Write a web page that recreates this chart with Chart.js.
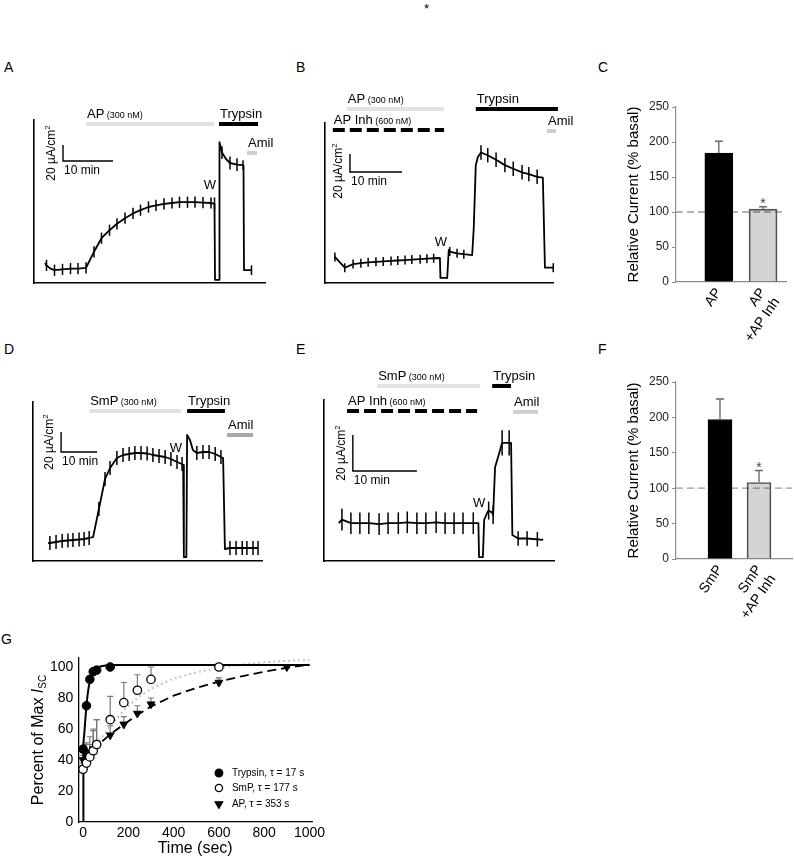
<!DOCTYPE html>
<html>
<head>
<meta charset="utf-8">
<title>Protease activation of ENaC</title>
<script src="https://cdn.jsdelivr.net/npm/chart.js@4.4.1/dist/chart.umd.min.js"></script>
<style>
  html, body { margin: 0; padding: 0; background: #fff; }
  body { position: relative; width: 794px; height: 862px; overflow: hidden;
         font-family: "Liberation Sans", Arial, sans-serif; }
  canvas { position: absolute; }
  .tag { position: absolute; font-size: 14px; line-height: 14px; color: #000; }
</style>
</head>
<body>
<div class="tag" style="left:424px;top:2px;font-size:13px">*</div>
<div class="tag" style="left:4px;top:60px">A</div>
<div class="tag" style="left:296px;top:60px">B</div>
<div class="tag" style="left:598px;top:60px">C</div>
<div class="tag" style="left:4px;top:342px">D</div>
<div class="tag" style="left:296px;top:342px">E</div>
<div class="tag" style="left:598px;top:342px">F</div>
<div class="tag" style="left:1px;top:632px">G</div>

<canvas id="cA" width="300" height="200" style="left:0px;top:90px"></canvas>
<canvas id="cB" width="290" height="210" style="left:300px;top:80px"></canvas>
<canvas id="cC" width="194" height="290" style="left:600px;top:50px"></canvas>
<canvas id="cD" width="300" height="200" style="left:0px;top:380px"></canvas>
<canvas id="cE" width="290" height="210" style="left:300px;top:370px"></canvas>
<canvas id="cF" width="194" height="289" style="left:600px;top:340px"></canvas>
<canvas id="cG" width="330" height="232" style="left:0px;top:630px"></canvas>

<script>
const FONT = '"Liberation Sans", Arial, sans-serif';

// Isc traces: [time (min), current (uA/cm2), half size of the pulse deflection (uA/cm2)]
const traceA = [
  [2.2, 25, 0], [2.5, 22, 7], [3.3, 18, 0], [4.1, 16, 7], [5.7, 17, 7], [7.3, 18, 7],
  [8.8, 18, 7], [10.4, 19, 7], [12.0, 39, 7], [13.5, 56, 7], [15.1, 66, 7], [16.6, 74, 7],
  [18.2, 81, 7], [19.8, 87, 7], [21.3, 91, 7], [22.9, 95, 7], [24.4, 97, 7], [26.0, 99, 7],
  [27.6, 100, 7], [29.1, 101, 7], [30.7, 101, 7], [32.2, 101, 7], [33.8, 100.5, 7], [35.4, 100, 7],
  [36.1, 99, 8], [36.2, 4, 0], [37.0, 4, 0], [37.1, 176, 0], [37.6, 163, 8], [38.4, 155, 0],
  [39.2, 150, 8], [40.6, 148, 8], [41.8, 147.5, 6], [41.9, 147, 0], [42.0, 16, 0], [43.5, 16, 6]
];
const traceB = [
  [1.9, 29, 5], [3.8, 17, 5], [5.4, 21, 5], [6.9, 22, 5], [8.3, 23, 5], [9.8, 23.5, 5],
  [11.2, 24, 5], [12.7, 24.5, 5], [14.0, 25, 5], [15.4, 25.5, 5], [16.7, 26, 5], [18.3, 26.5, 5],
  [19.6, 27, 5], [20.9, 27.5, 5], [22.1, 27.8, 0], [22.2, 5.6, 0], [23.5, 5.6, 0], [23.8, 36.7, 0],
  [24.0, 35, 5], [25.4, 33, 5], [26.7, 32, 5], [28.3, 31, 0], [28.6, 60, 0], [29.0, 131, 0],
  [29.4, 140, 0], [30.0, 145, 8], [31.3, 142, 8], [32.9, 137, 8], [34.6, 131, 8], [36.2, 127, 8],
  [37.9, 123, 8], [39.2, 121, 8], [40.8, 118, 8], [41.9, 117, 0], [42.3, 17, 0], [43.9, 17, 5]
];
const traceD = [
  [4.2, 18, 0], [4.7, 18, 7], [6.4, 19, 7], [8.1, 20, 7], [9.7, 20.5, 7], [11.1, 21, 7],
  [12.8, 21.5, 7], [14.2, 22, 7], [15.6, 23, 7], [16.7, 24, 0], [18.3, 52, 7], [20.0, 82, 7],
  [21.4, 93, 7], [23.3, 103, 7], [25.0, 106, 7], [26.7, 107, 7], [28.3, 108, 7], [30.0, 108, 7],
  [31.7, 107.5, 7], [33.3, 106, 7], [35.0, 105, 7], [36.7, 104, 7], [38.3, 102, 7], [40.0, 99, 7],
  [41.4, 97, 7], [41.7, 96, 0], [41.9, 4, 0], [42.6, 4, 0], [42.8, 126, 0], [43.6, 121, 0],
  [44.4, 111, 0], [45.5, 108, 7], [47.2, 109, 7], [48.9, 109, 7], [50.6, 107, 7], [52.2, 104, 7],
  [52.8, 103, 0], [53.3, 12, 0], [54.7, 13, 7], [56.4, 13, 7], [58.1, 13, 7], [59.4, 13, 7],
  [61.1, 13, 7], [62.5, 13, 7]
];
const traceE = [
  [2.3, 21, 0], [2.8, 23, 6], [4.2, 21, 6], [5.6, 21, 6], [7.0, 21, 6], [8.6, 20.5, 6],
  [10.0, 21, 6], [11.6, 21, 6], [13.0, 21.5, 6], [14.5, 21, 6], [15.9, 21, 6], [17.5, 21.5, 6],
  [18.9, 21, 6], [20.3, 21, 6], [21.7, 21, 6], [23.3, 21, 6], [24.1, 21, 0], [24.2, 2.2, 0],
  [24.8, 2.2, 0], [25.0, 22.8, 0], [25.5, 27, 0], [25.7, 28, 5], [26.2, 27, 0], [26.4, 25.6, 5],
  [26.7, 52, 0], [27.2, 58, 0], [27.8, 65.6, 7], [28.6, 65.6, 0], [28.9, 65.6, 7], [29.2, 65.6, 0],
  [29.4, 14.4, 0], [30.3, 12.5, 4], [31.7, 12.5, 4], [33.3, 12, 4], [34.2, 11.7, 0]
];

// drug applications: [name, concentration, start (min), end (min)]
const treatA = [['AP', '(300 nM)', 10.4, 36.0], ['Trypsin', '', 37.0, 44.8], ['Amil', '', 42.6, 44.6]];
const treatB = [['AP', '(300 nM)', 4.2, 22.9], ['AP Inh', '(600 nM)', 1.5, 22.9],
                ['Trypsin', '', 29.0, 44.8], ['Amil', '', 42.7, 44.4]];
const treatD = [['SmP', '(300 nM)', 15.6, 41.1], ['Trypsin', '', 42.8, 53.3], ['Amil', '', 53.9, 61.1]];
const treatE = [['SmP', '(300 nM)', 8.3, 24.4], ['Trypsin', '', 26.25, 29.2],
                ['AP Inh', '(600 nM)', 3.6, 23.9], ['Amil', '', 29.5, 33.4]];

// scale bar
const scaleBarMin = 10;
const scaleBarUA = 20;

// summary bars (% of basal current)
const catsC = ['AP', ['AP', '+AP Inh']];
const valsC = [184, 104];
const errsC = [17, 3.5];
const sigC = ['', '*'];
const catsF = ['SmP', ['SmP', '+AP Inh']];
const valsF = [197, 108];
const errsF = [29, 17];
const sigF = ['', '*'];
const yTicksBar = [0, 50, 100, 150, 200, 250];

// time course (panel G)
const seriesG = ['Trypsin, \u03c4 = 17 s', 'SmP, \u03c4 = 177 s', 'AP, \u03c4 = 353 s'];
const tTryp = [0, 15, 30, 45, 60, 120];
const vTryp = [47, 75, 92, 97, 98, 100];
const tSmp = [0, 15, 30, 45, 60, 120, 180, 240, 300, 600];
const vSmp = [34, 38, 42, 46, 50, 66, 77, 85, 92, 100];
const eSmp = [4, 12, 8, 14, 16, 15, 13, 10, 8, 1];
const tAp = [0, 15, 30, 45, 60, 120, 180, 240, 300, 600, 900];
const vAp = [40, 43, 45, 47, 50, 56, 63, 70, 76, 90, 100];
const eAp = [3, 8, 10, 12, 16, 6, 5, 5, 4, 3, 1];
const fitTrypT = [0, 0, 3, 6, 10, 15, 20, 25, 30, 40, 50, 60, 80, 100, 150, 1000];
const fitTrypV = [0, 46, 51, 58, 66, 75, 82, 87, 91, 95.5, 98, 99.3, 100.5, 101, 101.3, 101.3];
const fitSmpT = [0, 30, 60, 120, 180, 240, 300, 400, 500, 600, 700, 800, 900, 1000];
const fitSmpV = [36, 43, 50, 62, 72, 80, 86, 92.5, 96.5, 99.5, 101.5, 103, 104, 104.5];
const fitApT = [0, 60, 120, 180, 240, 300, 400, 500, 600, 700, 800, 900, 1000];
const fitApV = [39, 49, 56.5, 63, 69, 74.5, 81.5, 86.5, 90.5, 94, 97, 99.5, 101.5];
const xTicksG = [0, 200, 400, 600, 800, 1000];
const yTicksG = [0, 20, 40, 60, 80, 100];

const treatStyle = {
  'AP': { color: '#e2e2e2' },
  'SmP': { color: '#e2e2e2' },
  'Trypsin': { color: '#000' },
  'AP Inh': { color: '#000', dash: [12, 5] },
  'Amil': { color: '#cfcfcf' }
};

function drawRuns(ctx, runs, x, y, align) {
  let total = 0;
  runs.forEach(r => {
    ctx.font = (r.it ? 'italic ' : '') + r.s + 'px ' + FONT;
    r.w = ctx.measureText(r.t).width;
    total += r.w;
  });
  let cx = align === 'center' ? x - total / 2 : x;
  ctx.textAlign = 'left';
  runs.forEach(r => {
    ctx.font = (r.it ? 'italic ' : '') + r.s + 'px ' + FONT;
    ctx.fillText(r.t, cx, y - (r.up || 0));
    cx += r.w;
  });
}

function spikePx(chart, amp) {
  const y = chart.scales.y;
  if (!amp || !y) return 0;
  const r = Math.abs(y.getPixelForValue(amp) - y.getPixelForValue(0));
  return isFinite(r) ? r : 0;
}

function traceDeco(p) {
  return {
    id: 'traceDeco',
    afterDatasetsDraw(chart) {
      const ctx = chart.ctx, xs = chart.scales.x, ys = chart.scales.y;
      ctx.save();
      ctx.fillStyle = '#000';
      ctx.textBaseline = 'alphabetic';
      p.treat.forEach((t, i) => {
        const runs = [{ t: t[0], s: 13 }];
        if (t[1]) runs.push({ t: ' ' + t[1], s: 9 });
        drawRuns(ctx, runs, xs.getPixelForValue(t[2]) + 1, ys.getPixelForValue(p.rows[i]) - 6, 'left');
      });
      const cx = xs.getPixelForValue(p.bar[0]);
      const cy = ys.getPixelForValue(p.bar[1]);
      const top = ys.getPixelForValue(p.bar[1] + scaleBarUA);
      drawRuns(ctx, [{ t: '10 min', s: 12 }], cx + 1, cy + 13, 'left');
      ctx.textBaseline = 'middle';
      drawRuns(ctx, [{ t: 'W', s: 13 }], xs.getPixelForValue(p.w[0]), ys.getPixelForValue(p.w[1]), 'center');
      ctx.translate(cx - 11, (cy + top) / 2 + (p.unitShift || 0));
      ctx.rotate(-Math.PI / 2);
      drawRuns(ctx, [{ t: '20 \u00b5A/cm', s: 12 }, { t: '2', s: 8, up: 4 }], 0, 0, 'center');
      ctx.restore();
    }
  };
}

function traceChart(p) {
  const ds = [{
    data: p.trace.map(r => ({ x: r[0], y: r[1] })),
    borderColor: '#000', borderWidth: 1.8, borderJoinStyle: 'round',
    pointStyle: 'line', pointRotation: 90,
    pointRadius: c => spikePx(c.chart, p.trace[c.dataIndex] ? p.trace[c.dataIndex][2] : 0),
    pointBorderColor: '#000', pointBorderWidth: 1.5, pointHoverRadius: 0,
    clip: false, order: 1
  }];
  p.treat.forEach((t, i) => {
    const st = Object.assign({}, treatStyle[t[0]], (p.rowStyle || {})[i]);
    ds.push({
      data: [{ x: t[2], y: p.rows[i] }, { x: t[3], y: p.rows[i] }],
      borderColor: st.color, borderWidth: 4, borderDash: st.dash || [],
      borderCapStyle: 'butt', pointRadius: 0, clip: false, order: 2
    });
  });
  const bt = p.bar[0], bv = p.bar[1];
  ds.push({
    data: [{ x: bt, y: bv + scaleBarUA }, { x: bt, y: bv }, { x: bt + scaleBarMin, y: bv }],
    borderColor: '#000', borderWidth: 1.4, pointRadius: 0, clip: false, order: 3
  });
  const axis = max => ({
    type: 'linear', min: 0, max: max, offset: false,
    ticks: { display: false },
    grid: { display: false, drawTicks: false },
    border: { display: true, color: '#000', width: 1.6 }
  });
  new Chart(document.getElementById(p.id), {
    type: 'line',
    data: { datasets: ds },
    options: {
      responsive: false, animation: false, events: [],
      layout: { padding: p.pad, autoPadding: false },
      scales: { x: axis(p.xMax), y: axis(p.yMax) },
      plugins: { legend: { display: false }, tooltip: { enabled: false } }
    },
    plugins: [traceDeco(p)]
  });
}

traceChart({
  id: 'cA', trace: traceA, treat: treatA, xMax: 46.2, yMax: 203.75,
  pad: { left: 34, right: 35, top: 30, bottom: 7 },
  rows: [198.75, 198.75, 162.5], bar: [5.8, 152.5], w: [35.2, 122.5]
});
traceChart({
  id: 'cB', trace: traceB, treat: treatB, xMax: 43.85, yMax: 177.8,
  pad: { left: 25, right: 37, top: 43, bottom: 7 },
  rows: [193.3, 170, 193.3, 168.9], bar: [4.8, 123.3], w: [22.3, 45.6], unitShift: 8
});
traceChart({
  id: 'cD', trace: traceD, treat: treatD, xMax: 63.6, yMax: 159,
  pad: { left: 33, right: 38, top: 22, bottom: 19 },
  rows: [150, 150, 126], rowStyle: { 2: { color: '#a8a8a8' } }, bar: [7.8, 109], w: [39.7, 113]
});
traceChart({
  id: 'cE', trace: traceE, treat: treatE, xMax: 35.9, yMax: 89.4,
  pad: { left: 24, right: 36, top: 30, bottom: 19 },
  rows: [97.2, 97.2, 83.3, 82.8], bar: [4.5, 50], w: [24.2, 31.7]
});

function barDeco(p) {
  return {
    id: 'barDeco',
    afterDatasetsDraw(chart) {
      const ctx = chart.ctx, xs = chart.scales.x, ys = chart.scales.y;
      ctx.save();
      p.vals.forEach((v, i) => {
        const x = xs.getPixelForValue(i + 1);
        const y0 = ys.getPixelForValue(v);
        const y1 = ys.getPixelForValue(v + p.errs[i]);
        ctx.strokeStyle = '#6a6a6a';
        ctx.lineWidth = 1.4;
        ctx.beginPath();
        ctx.moveTo(x, y0); ctx.lineTo(x, y1);
        ctx.moveTo(x - 4, y1); ctx.lineTo(x + 4, y1);
        ctx.stroke();
        if (p.sig[i]) {
          ctx.fillStyle = '#444';
          ctx.textBaseline = 'alphabetic';
          drawRuns(ctx, [{ t: p.sig[i], s: 14 }], x, y1 + 1, 'center');
        }
      });
      ctx.restore();
    }
  };
}

function barChart(p) {
  new Chart(document.getElementById(p.id), {
    type: 'bar',
    data: {
      datasets: [
        {
          type: 'bar',
          data: p.vals.map((v, i) => ({ x: i + 1, y: v })),
          backgroundColor: ['#000', 'rgba(0,0,0,0.17)'],
          borderColor: ['#000', '#555'], borderWidth: 1,
          barThickness: p.barW, order: 1
        },
        {
          type: 'line',
          data: [{ x: p.xMin, y: 100 }, { x: p.xMax, y: 100 }],
          borderColor: '#9a9a9a', borderWidth: 1.3, borderDash: [7, 4],
          pointRadius: 0, order: 2
        }
      ]
    },
    options: {
      responsive: false, animation: false, events: [],
      layout: { padding: p.pad, autoPadding: false },
      scales: {
        x: {
          type: 'linear', min: p.xMin, max: p.xMax, offset: false,
          afterBuildTicks: s => { s.ticks = p.cats.map((c, i) => ({ value: i + 1 })); },
          afterFit: s => { s.height = p.xH; },
          ticks: {
            autoSkip: false, minRotation: 55, maxRotation: 55, padding: 3,
            font: { size: 14 }, color: '#000',
            callback: v => p.cats[v - 1]
          },
          grid: { display: false, drawTicks: false },
          border: { display: true, color: '#8c8c8c', width: 1.2 }
        },
        y: {
          min: 0, max: 250,
          afterBuildTicks: s => { s.ticks = yTicksBar.map(v => ({ value: v })); },
          afterFit: s => { s.width = 76; },
          ticks: { font: { size: 12 }, color: '#222', padding: 3 },
          grid: { display: true, drawOnChartArea: false, tickLength: 4, color: '#8c8c8c' },
          border: { display: true, color: '#8c8c8c', width: 1.2 },
          title: {
            display: true, text: 'Relative Current (% basal)',
            font: { size: 15 }, color: '#000', padding: { top: 25, bottom: 0 }
          }
        }
      },
      plugins: { legend: { display: false }, tooltip: { enabled: false } }
    },
    plugins: [barDeco(p)]
  });
}

barChart({
  id: 'cC', cats: catsC, vals: valsC, errs: errsC, sig: sigC,
  xMin: 0.032, xMax: 2.527, barW: 28, xH: 58,
  pad: { left: 0, right: 2, top: 57, bottom: 0 }
});
barChart({
  id: 'cF', cats: catsF, vals: valsF, errs: errsF, sig: sigF,
  xMin: -0.128, xMax: 2.846, barW: 24, xH: 70,
  pad: { left: 0, right: 2, top: 42, bottom: 0 }
});

// panel G
const pairs = (ts, vs) => ts.map((t, i) => ({ x: t, y: vs[i] }));
const gErr = [
  { t: tSmp, v: vSmp, e: eSmp },
  { t: tAp, v: vAp, e: eAp }
];
const gMarks = [
  { style: 'circle', rot: 0, r: 4.5, fill: '#000' },
  { style: 'circle', rot: 0, r: 4.3, fill: '#fff' },
  { style: 'triangle', rot: 180, r: 5, fill: '#000' }
];

const gDeco = {
  id: 'gDeco',
  beforeDatasetsDraw(chart) {
    const ctx = chart.ctx, xs = chart.scales.x, ys = chart.scales.y;
    ctx.save();
    ctx.strokeStyle = '#7a7a7a';
    ctx.lineWidth = 1.2;
    gErr.forEach(s => {
      s.t.forEach((t, i) => {
        if (!s.e[i]) return;
        const x = xs.getPixelForValue(t);
        const y0 = ys.getPixelForValue(s.v[i]);
        const y1 = ys.getPixelForValue(s.v[i] + s.e[i]);
        ctx.beginPath();
        ctx.moveTo(x, y0); ctx.lineTo(x, y1);
        ctx.moveTo(x - 3, y1); ctx.lineTo(x + 3, y1);
        ctx.stroke();
      });
    });
    ctx.restore();
  },
  afterDatasetsDraw(chart) {
    const ctx = chart.ctx, xs = chart.scales.x, ys = chart.scales.y, a = chart.chartArea;
    ctx.save();
    // legend
    const mx = xs.getPixelForValue(600);
    const rowsY = [31.6, 21.9, 11.6];
    seriesG.forEach((name, i) => {
      const m = gMarks[i];
      const y = ys.getPixelForValue(rowsY[i]);
      ctx.fillStyle = m.fill;
      ctx.strokeStyle = '#000';
      ctx.lineWidth = 1.3;
      Chart.helpers.drawPoint(ctx, { pointStyle: m.style, rotation: m.rot, radius: m.r - 0.7, borderWidth: 1.3 }, mx, y);
      ctx.fillStyle = '#000';
      ctx.textBaseline = 'middle';
      drawRuns(ctx, [{ t: name, s: 10 }], mx + 13, y, 'left');
    });
    // y title with italic I and subscript
    ctx.translate(39, (a.top + a.bottom) / 2);
    ctx.rotate(-Math.PI / 2);
    ctx.fillStyle = '#000';
    ctx.textBaseline = 'middle';
    drawRuns(ctx, [{ t: 'Percent of Max ', s: 16 }, { t: 'I', s: 16, it: true }, { t: 'SC', s: 10, up: -4 }], 0, 0, 'center');
    ctx.restore();
  }
};

new Chart(document.getElementById('cG'), {
  type: 'line',
  data: {
    datasets: [
      { data: pairs(fitSmpT, fitSmpV), borderColor: '#c4c4c4', borderWidth: 2, borderDash: [2, 3], pointRadius: 0, order: 6 },
      { data: pairs(fitApT, fitApV), borderColor: '#000', borderWidth: 1.8, borderDash: [9, 5], pointRadius: 0, order: 5 },
      { data: pairs(fitTrypT, fitTrypV), borderColor: '#000', borderWidth: 2, pointRadius: 0, order: 4 },
      { data: pairs(tAp, vAp), showLine: false, pointStyle: 'triangle', pointRotation: 180, pointRadius: 4.5,
        pointBackgroundColor: '#000', pointBorderColor: '#000', pointBorderWidth: 1, order: 3 },
      { data: pairs(tSmp, vSmp), showLine: false, pointStyle: 'circle', pointRadius: 4.2,
        pointBackgroundColor: '#fff', pointBorderColor: '#000', pointBorderWidth: 1.3, order: 2 },
      { data: pairs(tTryp, vTryp), showLine: false, pointStyle: 'circle', pointRadius: 4.3,
        pointBackgroundColor: '#000', pointBorderColor: '#000', pointBorderWidth: 1, order: 1 }
    ]
  },
  options: {
    responsive: false, animation: false, events: [],
    layout: { padding: { left: 0, right: 18, top: 28, bottom: 0 }, autoPadding: false },
    scales: {
      x: {
        type: 'linear', min: -21, max: 1011, offset: false,
        afterBuildTicks: s => { s.ticks = xTicksG.map(v => ({ value: v })); },
        afterFit: s => { s.height = 40; },
        ticks: { font: { size: 14 }, color: '#000', padding: 3, maxRotation: 0, callback: v => String(v) },
        grid: { display: false, drawTicks: false },
        border: { display: true, color: '#000', width: 1.3 },
        title: { display: true, text: 'Time (sec)', font: { size: 16 }, color: '#000', padding: { top: 0, bottom: 4 } }
      },
      y: {
        min: 0, max: 105.8,
        afterBuildTicks: s => { s.ticks = yTicksG.map(v => ({ value: v })); },
        afterFit: s => { s.width = 78.3; },
        ticks: { font: { size: 14 }, color: '#000', padding: 5, callback: v => String(v) },
        grid: { display: false, drawTicks: false },
        border: { display: true, color: '#000', width: 1.3 }
      }
    },
    plugins: { legend: { display: false }, tooltip: { enabled: false } }
  },
  plugins: [gDeco]
});
</script>
</body>
</html>
